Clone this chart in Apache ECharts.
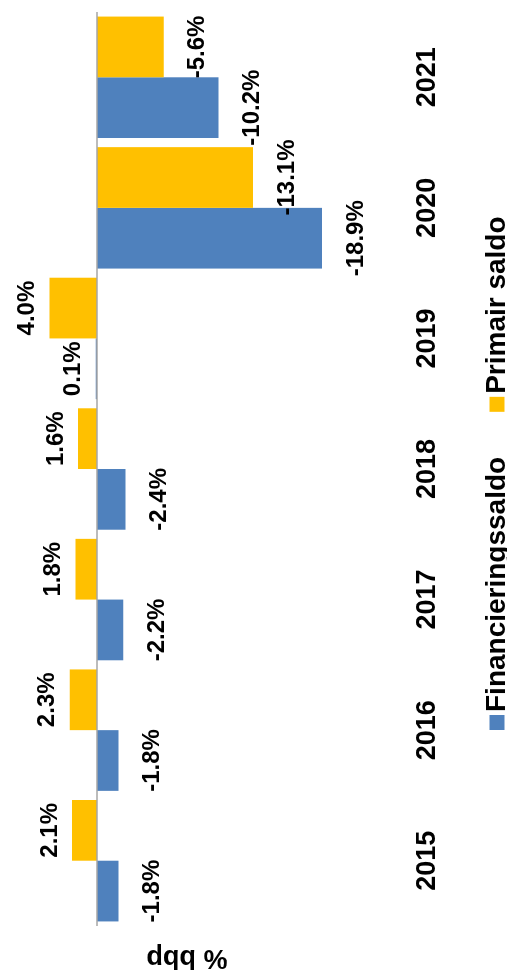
<!DOCTYPE html>
<html>
<head>
<meta charset="utf-8">
<script src="https://cdn.jsdelivr.net/npm/echarts@6/dist/echarts.min.js"></script>
<style>
  html, body { margin: 0; padding: 0; background: #fff; overflow: hidden; width: 507px; height: 971px; }
  #chart { position: absolute; left: 0; top: 0; width: 971px; height: 507px;
           transform-origin: 0 0; transform: translate(0, 971px) rotate(-90deg); background: #fff; }
</style>
</head>
<body>
<div id="chart"></div>
<script>
// ---- data ----
const categories = ['2015', '2016', '2017', '2018', '2019', '2020', '2021'];
const financieringssaldo = [-1.8, -1.8, -2.2, -2.4, 0.1, -18.9, -10.2];
const primairSaldo = [2.1, 2.3, 1.8, 1.6, 4.0, -13.1, -5.6];
const seriesNames = ['Financieringssaldo', 'Primair saldo'];
const axisTitle = '% bbp';

const FONT = '"Liberation Sans", Arial, sans-serif';

function toData(values) {
  return values.map(v => ({
    value: v,
    label: { position: v >= 0 ? 'top' : 'bottom', distance: v >= 0 ? 10 : 22 }
  }));
}

const labelCommon = {
  show: true,
  formatter: p => p.value.toFixed(1) + '%',
  fontFamily: FONT,
  fontWeight: 'bold',
  fontSize: 24,
  color: '#000'
};

const chart = echarts.init(document.getElementById('chart'), null, { renderer: 'canvas' });
chart.setOption({
  animation: false,
  backgroundColor: '#fff',
  grid: { left: 45, right: 12, top: 37.5, bottom: 112.5, containLabel: false },
  legend: {
    data: seriesNames,
    left: 236,
    top: 478,
    icon: 'rect',
    itemWidth: 15,
    itemHeight: 15,
    itemGap: 45,
    textStyle: { fontFamily: FONT, fontWeight: 'bold', fontSize: 28, color: '#000', padding: [0, 0, 0, -2] }
  },
  xAxis: {
    type: 'category',
    data: categories,
    axisLine: { show: false, onZero: false },
    axisTick: { show: false },
    axisLabel: { fontFamily: FONT, fontWeight: 'bold', fontSize: 27, color: '#000', margin: 20 },
    splitLine: { show: false }
  },
  yAxis: {
    type: 'value',
    min: -25,
    max: 5,
    show: false
  },
  graphic: [{
    type: 'text',
    x: 14,
    y: 187,
    rotation: Math.PI / 2,
    style: {
      text: axisTitle,
      font: 'bold 27px ' + FONT,
      fill: '#000',
      textAlign: 'center',
      textVerticalAlign: 'middle'
    }
  }],
  series: [
    {
      name: seriesNames[0],
      type: 'bar',
      data: toData(financieringssaldo),
      itemStyle: { color: '#4F81BD' },
      barGap: '0%',
      barCategoryGap: '7%',
      label: labelCommon,
      markLine: {
        silent: true,
        symbol: ['none', 'none'],
        label: { show: false },
        lineStyle: { color: '#a6a6a6', width: 1.5, type: 'solid' },
        data: [{ yAxis: 0 }]
      }
    },
    {
      name: seriesNames[1],
      type: 'bar',
      data: toData(primairSaldo),
      itemStyle: { color: '#FFC000' },
      barGap: '0%',
      barCategoryGap: '7%',
      label: labelCommon
    }
  ]
});
</script>
</body>
</html>
